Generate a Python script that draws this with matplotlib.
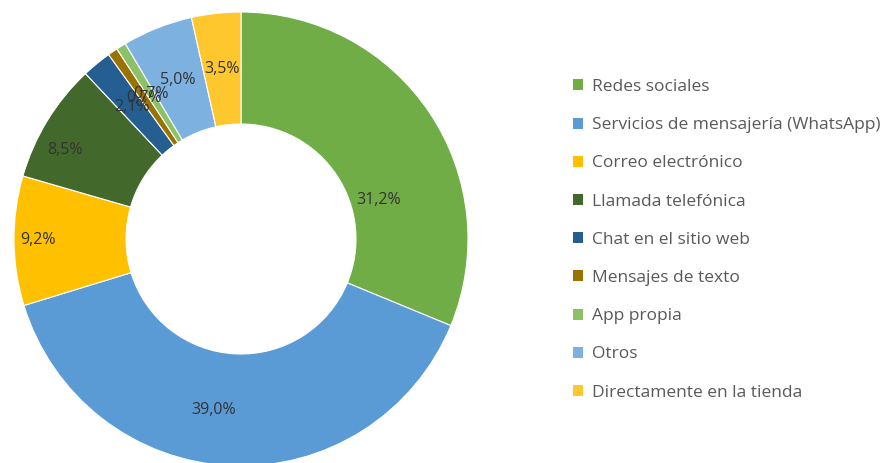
import matplotlib.pyplot as plt
import numpy as np

# --- DATA ---
categories = ['Redes sociales', 'Servicios de mensajería (WhatsApp)', 'Correo electrónico',
              'Llamada telefónica', 'Chat en el sitio web', 'Mensajes de texto',
              'App propia', 'Otros', 'Directamente en la tienda']
values = [31.2, 39.0, 9.2, 8.5, 2.1, 0.7, 0.7, 5.0, 3.5]
colors = ['#70AD47', '#5B9BD5', '#FFC000', '#43682B', '#255E91', '#997300',
          '#8CC168', '#7DB1E0', '#FFC72E']

# label nudges (pixels) where the original labels sit off the ring centre
label_nudge = {0: (-5, -56), 1: (-19, 0), 2: (-32, 0), 3: (-30, 0)}

plt.rcParams['font.family'] = ['Open Sans', 'DejaVu Sans']

W, H = 892, 463
fig = plt.figure(figsize=(W / 100, H / 100), dpi=100)
ax = fig.add_axes([0, 0, 1, 1])

cx, cy = 241, H - 239
r_out, r_in = 227, 115

wedges, _ = ax.pie(values, colors=colors, startangle=90, counterclock=False,
                   center=(cx, cy), radius=r_out, frame=True,
                   wedgeprops=dict(width=r_out - r_in, edgecolor='white', linewidth=0.8))
ax.set_xlim(0, W)
ax.set_ylim(0, H)
ax.set_aspect('equal')
ax.axis('off')

r_lab = (r_out + r_in) / 2
for i, w in enumerate(wedges):
    ang = np.deg2rad((w.theta1 + w.theta2) / 2)
    x = cx + r_lab * np.cos(ang)
    y = cy + r_lab * np.sin(ang)
    dx, dy = label_nudge.get(i, (0, 0))
    ax.text(x + dx, y + dy, f"{values[i]:.1f}%".replace('.', ','),
            ha='center', va='center', fontsize=11.5, color='#333333')

leg = ax.legend(wedges, categories, loc='upper left',
                bbox_to_anchor=(566 / W, 1 - 72 / H), frameon=False,
                fontsize=12.5, labelcolor='#595959', handlelength=0.6, handleheight=0.6,
                handletextpad=0.5, labelspacing=1.28, borderaxespad=0)
for h in leg.legend_handles:
    h.set_edgecolor('none')

fig.savefig('out.png', dpi=100)
